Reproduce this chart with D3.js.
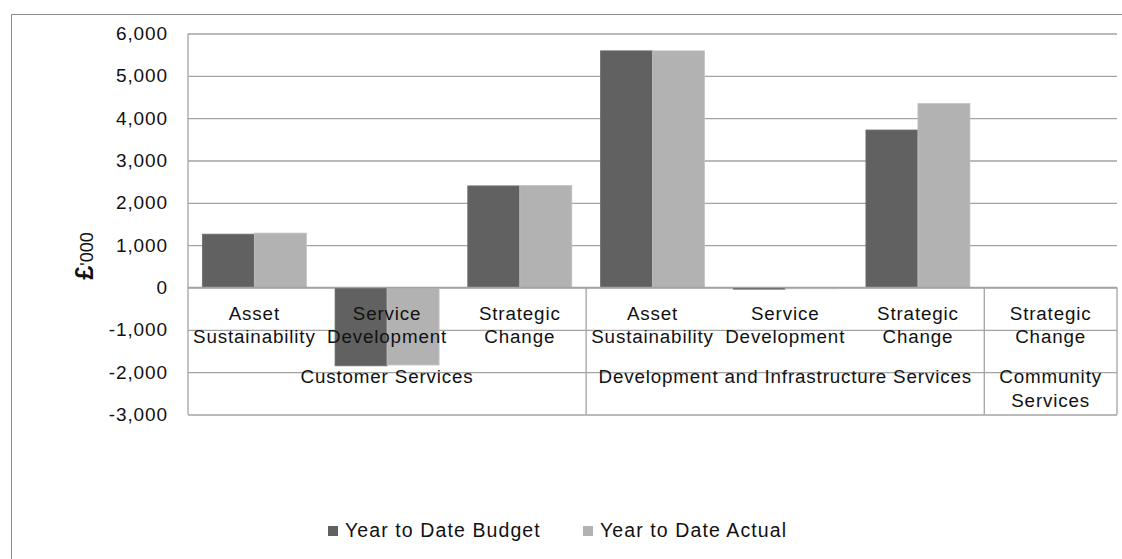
<!DOCTYPE html>
<html>
<head>
<meta charset="utf-8">
<script src="https://cdn.jsdelivr.net/npm/d3@7"></script>
<style>
  body { margin: 0; background: #fff; }
  text { font-family: "Liberation Sans", Arial, sans-serif; fill: #111; }
</style>
</head>
<body>
<svg id="canvas"></svg>
<script>
const width = 1122;
const height = 559;

// data
const subCategories = ["Asset Sustainability", "Service Development", "Strategic Change",
                       "Asset Sustainability", "Service Development", "Strategic Change",
                       "Strategic Change"];
const groups = ["Customer Services", "Development and Infrastructure Services", "Community Services"];
const groupOf = [0, 0, 0, 1, 1, 1, 2];
const seriesNames = ["Year to Date Budget", "Year to Date Actual"];
const budget = [1260, -1850, 2400, 5590, -40, 3720, 0];
const actual = [1285, -1830, 2410, 5590, -30, 4345, 0];
const yTicks = [-3000, -2000, -1000, 0, 1000, 2000, 3000, 4000, 5000, 6000];

const colors = ["#616161", "#b2b2b2"];
const gridColor = "#a3a3a3";

const plot = { left: 188, right: 1117, top: 33.5, bottom: 414.5 };

const svg = d3.select("#canvas")
              .attr("width", width)
              .attr("height", height);

// outer chart border
svg.append("rect")
   .attr("x", 11.5).attr("y", 14.5)
   .attr("width", 1200).attr("height", 600)
   .attr("fill", "none")
   .attr("stroke", "#8c8c8c");

const idx = d3.range(subCategories.length);

const xScale = d3.scaleBand()
                 .domain(idx)
                 .range([plot.left, plot.right])
                 .padding(0);

const xSub = d3.scaleBand()
               .domain([0, 1])
               .range([0, xScale.bandwidth()])
               .paddingInner(0)
               .paddingOuter(0.276);

const yScale = d3.scaleLinear()
                 .domain([-3000, 6000])
                 .range([plot.bottom, plot.top]);

// gridlines + tick labels
const fmt = d3.format(",");
const yAxis = d3.axisLeft(yScale)
                .tickValues(yTicks)
                .tickSize(-(plot.right - plot.left))
                .tickPadding(20)
                .tickFormat(d => fmt(d).replace("\u2212", "-"));

const yG = svg.append("g")
              .attr("id", "y-axis")
              .attr("transform", `translate(${plot.left}, 0)`)
              .call(yAxis);
yG.select(".domain").remove();
yG.selectAll(".tick line")
  .attr("stroke", gridColor)
  .attr("stroke-width", 1.3);
yG.selectAll(".tick text")
  .attr("font-size", "19px")
  .attr("letter-spacing", "0.9px")
  .attr("fill", "#111");

// bars
const rows = idx.map(i => [budget[i], actual[i]]);
const catG = svg.selectAll("g.cat")
                .data(rows)
                .enter()
                .append("g")
                .attr("class", "cat")
                .attr("transform", (d, i) => `translate(${xScale(i)}, 0)`);

catG.selectAll("rect")
    .data(d => d.map((v, s) => ({ v, s })))
    .enter()
    .append("rect")
    .filter(d => d.v !== 0)
    .attr("x", d => xSub(d.s))
    .attr("width", xSub.bandwidth())
    .attr("y", d => yScale(Math.max(0, d.v)))
    .attr("height", d => Math.abs(yScale(d.v) - yScale(0)))
    .attr("fill", d => colors[d.s])
    .attr("stroke", d => d.s === 0 ? "#6e6e6e" : "#c2c2c2")
    .attr("stroke-width", 0.8);

// axis frame: left line, zero line, group separators
const zeroY = yScale(0);
svg.append("line")
   .attr("x1", plot.left).attr("x2", plot.left)
   .attr("y1", plot.top).attr("y2", plot.bottom)
   .attr("stroke", gridColor).attr("stroke-width", 1.3);
svg.append("line")
   .attr("x1", plot.left).attr("x2", plot.right)
   .attr("y1", zeroY).attr("y2", zeroY)
   .attr("stroke", gridColor).attr("stroke-width", 1.5);

const groupRanges = groups.map((g, gi) => {
  const members = idx.filter(i => groupOf[i] === gi);
  return {
    name: g,
    x0: xScale(d3.min(members)),
    x1: xScale(d3.max(members)) + xScale.bandwidth()
  };
});

svg.selectAll("line.sep")
   .data(groupRanges)
   .enter()
   .append("line")
   .attr("class", "sep")
   .attr("x1", d => d.x1).attr("x2", d => d.x1)
   .attr("y1", zeroY).attr("y2", plot.bottom)
   .attr("stroke", gridColor).attr("stroke-width", 1.3);

// subcategory labels (two lines)
const labelStyle = sel => sel.attr("font-size", "18.8px")
                             .attr("letter-spacing", "0.85px")
                             .attr("text-anchor", "middle");

svg.selectAll("text.sub")
   .data(idx)
   .enter()
   .append("text")
   .attr("class", "sub")
   .call(labelStyle)
   .each(function(i) {
     const words = subCategories[i].split(" ");
     const cx = xScale(i) + xScale.bandwidth() / 2;
     d3.select(this).selectAll("tspan")
       .data(words)
       .enter()
       .append("tspan")
       .attr("x", cx)
       .attr("y", (w, k) => 320 + k * 23)
       .text(w => w);
   });

// group labels, wrapped if wider than the group
svg.selectAll("text.grp")
   .data(groupRanges)
   .enter()
   .append("text")
   .attr("class", "grp")
   .call(labelStyle)
   .each(function(d) {
     const t = d3.select(this);
     const cx = (d.x0 + d.x1) / 2;
     t.text(d.name);
     if (this.getComputedTextLength() > d.x1 - d.x0 - 6) {
       t.text(null);
       d.name.split(" ").forEach((w, k) => {
         t.append("tspan").attr("x", cx).attr("y", 383 + k * 23.5).text(w);
       });
     } else {
       t.attr("x", cx).attr("y", 383);
     }
   });

// y axis title
const yTitle = svg.append("text")
                  .attr("transform", "translate(93, 256) rotate(-90)")
                  .attr("text-anchor", "middle");
yTitle.append("tspan")
      .attr("font-size", "25px")
      .attr("font-weight", "bold")
      .text("£");
yTitle.append("tspan")
      .attr("font-size", "18px")
      .text("'000");

// legend
const legendX = [328, 583];
const legend = svg.selectAll("g.legend")
                  .data(seriesNames)
                  .enter()
                  .append("g")
                  .attr("class", "legend")
                  .attr("transform", (d, i) => `translate(${legendX[i]}, 526)`);
legend.append("rect")
      .attr("width", 10).attr("height", 10)
      .attr("fill", (d, i) => colors[i]);
legend.append("text")
      .attr("x", 17).attr("y", 11)
      .attr("font-size", "19.5px")
      .attr("letter-spacing", "1.1px")
      .text(d => d);
</script>
</body>
</html>
